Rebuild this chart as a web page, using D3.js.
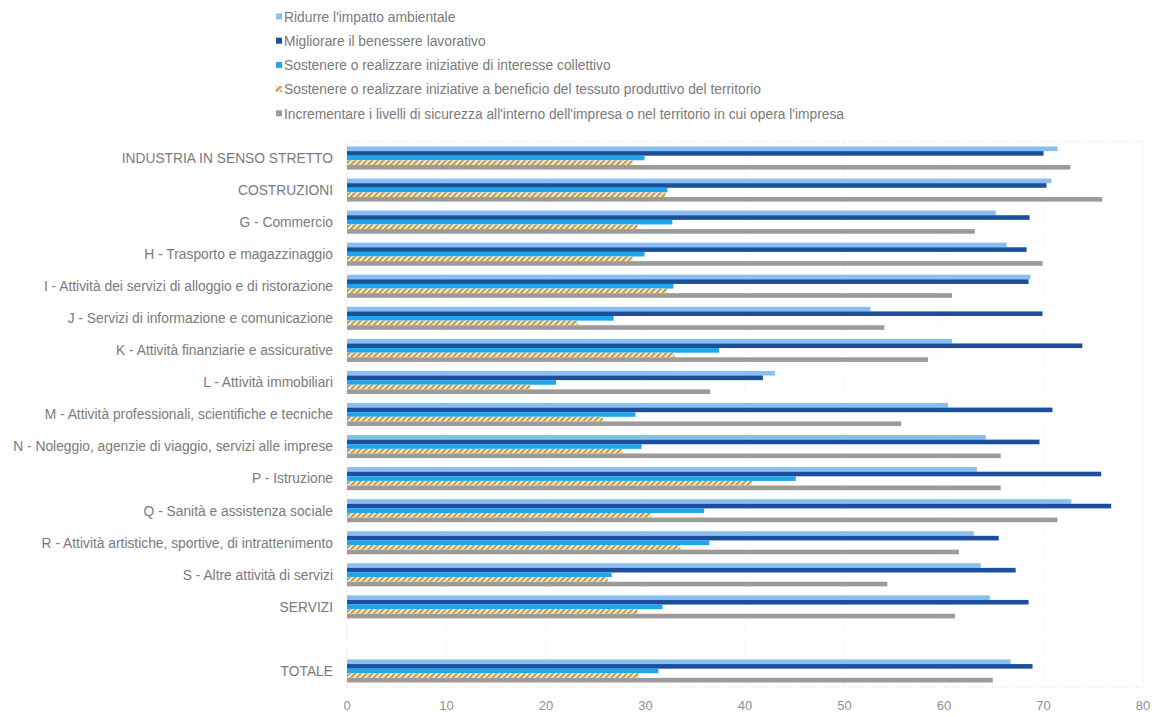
<!DOCTYPE html>
<html>
<head>
<meta charset="utf-8">
<script src="https://cdn.jsdelivr.net/npm/d3@7"></script>
<style>
  body { margin: 0; background: #fff; }
  text { font-family: "Liberation Sans", Arial, sans-serif; }
</style>
</head>
<body>
<svg id="vis"></svg>
<script>
// categories, top to bottom ("" is the empty row before TOTALE)
const categories = [
  "INDUSTRIA IN SENSO STRETTO",
  "COSTRUZIONI",
  "G - Commercio",
  "H - Trasporto e magazzinaggio",
  "I - Attività dei servizi di alloggio e di ristorazione",
  "J - Servizi di informazione e comunicazione",
  "K - Attività finanziarie e assicurative",
  "L - Attività immobiliari",
  "M - Attività professionali, scientifiche e tecniche",
  "N - Noleggio, agenzie di viaggio, servizi alle imprese",
  "P - Istruzione",
  "Q - Sanità e assistenza sociale",
  "R - Attività artistiche, sportive, di intrattenimento",
  "S - Altre attività di servizi",
  "SERVIZI",
  "",
  "TOTALE"
];

const seriesNames = [
  "Ridurre l'impatto ambientale",
  "Migliorare il benessere lavorativo",
  "Sostenere o realizzare iniziative di interesse collettivo",
  "Sostenere o realizzare iniziative a beneficio del tessuto produttivo del territorio",
  "Incrementare i livelli di sicurezza all'interno dell'impresa o nel territorio in cui opera l'impresa"
];

// values (null = empty row)
const ridurre      = [71.4, 70.8, 65.2, 66.3, 68.7, 52.6, 60.8, 43.0, 60.4, 64.2, 63.3, 72.8, 63.0, 63.7, 64.6, null, 66.7];
const migliorare   = [70.0, 70.3, 68.6, 68.3, 68.5, 69.9, 73.9, 41.8, 70.9, 69.6, 75.8, 76.8, 65.5, 67.2, 68.5, null, 68.9];
const collettivo   = [29.9, 32.2, 32.7, 29.9, 32.8, 26.8, 37.4, 21.0, 29.0, 29.6, 45.1, 35.9, 36.4, 26.6, 31.7, null, 31.3];
const territorio   = [28.7, 32.0, 29.2, 28.7, 32.2, 23.2, 32.9, 18.4, 25.7, 27.7, 40.7, 30.6, 33.5, 26.2, 29.2, null, 29.3];
const sicurezza    = [72.7, 75.9, 63.1, 69.9, 60.8, 54.0, 58.4, 36.5, 55.7, 65.7, 65.7, 71.4, 61.5, 54.3, 61.1, null, 64.9];

const xTicks = [0, 10, 20, 30, 40, 50, 60, 70, 80];

const allSeries = [ridurre, migliorare, collettivo, territorio, sicurezza];
const colors = ["#86bff0", "#1b4f9e", "#1fa6ea", "url(#hatch)", "#9b9b9b"];

const width = 1152, height = 717;
const margin = {top: 142, right: 9, bottom: 30, left: 347};

const svg = d3.select("#vis")
  .attr("width", width)
  .attr("height", height)
  .attr("viewBox", [0, 0, width, height]);

// hatch for the 4th series
const defs = svg.append("defs");
const pat = defs.append("pattern")
  .attr("id", "hatch")
  .attr("patternUnits", "userSpaceOnUse")
  .attr("width", 4)
  .attr("height", 4)
  .attr("patternTransform", "rotate(45)");
pat.append("rect").attr("width", 4).attr("height", 4).attr("fill", "#fff");
pat.append("rect").attr("width", 2.4).attr("height", 4).attr("fill", "#c99a3c");

const x = d3.scaleLinear()
  .domain([0, 80])
  .range([margin.left, width - margin.right]);

const y = d3.scaleBand()
  .domain(d3.range(categories.length))
  .range([margin.top, height - margin.bottom])
  .paddingInner(0.28)
  .paddingOuter(0.14);

const ySub = d3.scaleBand()
  .domain(d3.range(allSeries.length))
  .range([0, y.bandwidth()]);

// plot border (dotted, faint)
svg.append("rect")
  .attr("x", x(0))
  .attr("y", margin.top)
  .attr("width", x(80) - x(0))
  .attr("height", height - margin.bottom - margin.top)
  .attr("fill", "none")
  .attr("stroke", "#dcdcdc")
  .attr("stroke-dasharray", "1,2");

// faint vertical gridlines
svg.append("g")
  .selectAll("line")
  .data(xTicks.slice(1, -1))
  .join("line")
    .attr("x1", d => x(d))
    .attr("x2", d => x(d))
    .attr("y1", margin.top)
    .attr("y2", height - margin.bottom)
    .attr("stroke", "#ededed")
    .attr("stroke-dasharray", "1,2");

// bars
const groups = svg.append("g")
  .selectAll("g")
  .data(categories.map((c, i) => ({cat: c, i: i})))
  .join("g")
    .attr("transform", d => `translate(0, ${y(d.i)})`);

groups.selectAll("rect")
  .data(d => allSeries.map((s, k) => ({k: k, v: s[d.i]})).filter(e => e.v !== null))
  .join("rect")
    .attr("x", x(0))
    .attr("y", d => ySub(d.k))
    .attr("width", d => x(d.v) - x(0))
    .attr("height", ySub.bandwidth())
    .attr("fill", d => colors[d.k]);

// category labels
svg.append("g")
  .selectAll("text")
  .data(categories)
  .join("text")
    .attr("x", 333)
    .attr("y", (d, i) => y(i) + y.bandwidth() / 2)
    .attr("dy", "0.35em")
    .attr("text-anchor", "end")
    .style("font-size", "13.8px")
    .style("fill", "#7a7a7a")
    .text(d => d);

// x axis labels
svg.append("g")
  .selectAll("text")
  .data(xTicks)
  .join("text")
    .attr("x", d => x(d))
    .attr("y", 710)
    .attr("text-anchor", "middle")
    .style("font-size", "13px")
    .style("fill", "#8f8f8f")
    .text(d => d);

// legend
const legend = svg.append("g")
  .selectAll("g")
  .data(seriesNames)
  .join("g")
    .attr("transform", (d, i) => `translate(276, ${17 + i * 24.2})`);

legend.append("rect")
  .attr("x", 0)
  .attr("y", -3.5)
  .attr("width", 6)
  .attr("height", 6)
  .attr("fill", (d, i) => colors[i]);

legend.append("text")
  .attr("x", 8)
  .attr("y", 0)
  .attr("dy", "0.35em")
  .style("font-size", "13.8px")
  .style("fill", "#7a7a7a")
  .text(d => d);
</script>
</body>
</html>
